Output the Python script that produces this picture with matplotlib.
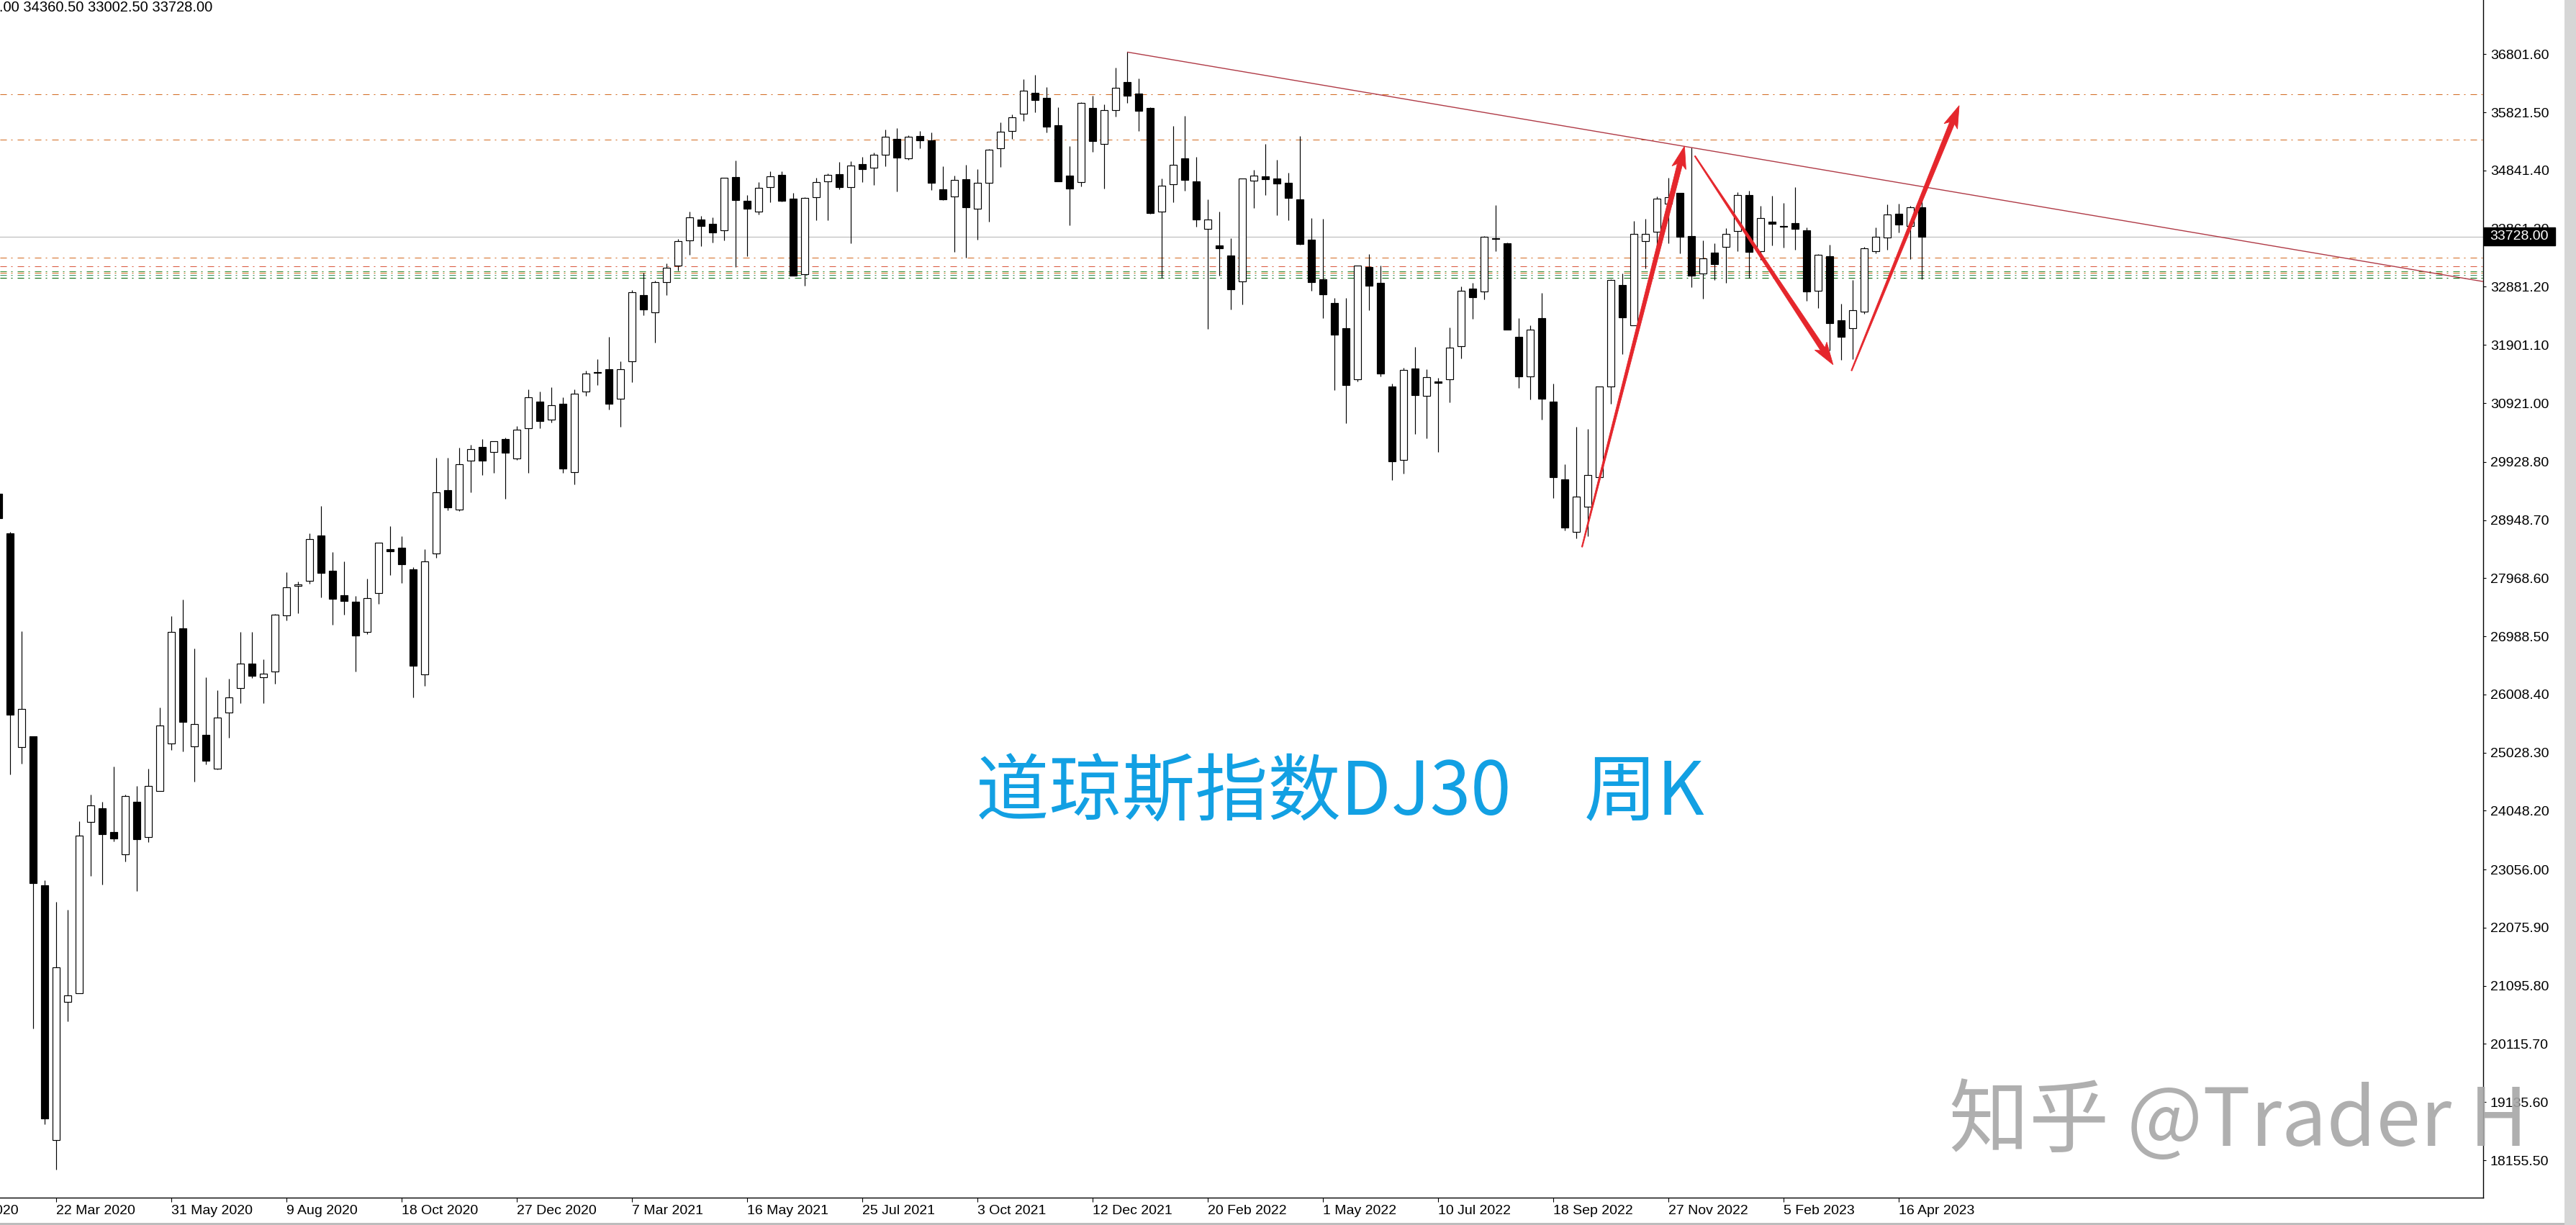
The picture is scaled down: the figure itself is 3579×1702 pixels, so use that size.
import matplotlib
matplotlib.use("Agg")
import matplotlib.pyplot as plt
import numpy as np
import pandas as pd
from matplotlib.patches import Rectangle, Polygon
from matplotlib.transforms import IdentityTransform, blended_transform_factory

# ---------------- data (weekly DJ30 candles, bar 0 = week of 22 Mar 2020) ----------------
first_bar = -5
opens = [
    29395, 28721, 25123, 25297, 22793, 18497, 20827, 20970, 23863, 24085,
    23688, 23308, 24196, 23609, 24386, 25187, 27120, 25139, 25329, 24758,
    25702, 26122, 26534, 26304, 26391, 27342, 27834, 27929, 28690, 28096,
    27681, 27569, 27068, 27718, 28461, 28479, 28120, 26343, 28380, 29451,
    29123, 29947, 30176, 30101, 30312, 29990, 30498, 30950, 30646, 30912,
    29761, 31111, 31426, 31488, 30993, 31631, 32739, 32454, 32955, 33238,
    33659, 34011, 33938, 33829, 34727, 34327, 34153, 34557, 34763, 34363,
    33089, 34395, 34662, 34776, 34557, 34945, 34885, 35103, 35370, 35043,
    35419, 35346, 34521, 34399, 34691, 34201, 34638, 35213, 35504, 35795,
    36147, 36066, 35605, 34756, 34643, 35896, 35286, 35856, 36333, 36139,
    35896, 34145, 34606, 35047, 34659, 33854, 33575, 33409, 32976, 34667,
    34740, 34707, 34634, 34355, 33674, 33009, 32610, 32184, 31317, 33216,
    32947, 31200, 29957, 31501, 31039, 31286, 31317, 31874, 32848, 32798,
    33700, 33615, 32035, 31376, 32359, 30945, 29634, 28745, 29172, 29670,
    31196, 32911, 32231, 33647, 33809, 34286, 34464, 33732, 33105, 33457,
    33550, 33817, 34428, 33477, 33975, 33905, 33950, 33833, 32810, 33396,
    32316, 32179, 32466, 33477, 33708, 34108, 33902, 34217]
highs = [
    29560, 28745, 27073, 25297, 22872, 22515, 22381, 23871, 24323, 24196,
    24790, 24323, 24465, 24758, 25789, 27326, 27612, 26780, 26296, 26082,
    26272, 27065, 27065, 26597, 27366, 28064, 27913, 28721, 29189, 28411,
    28250, 27668, 27959, 28566, 28845, 28677, 28151, 28455, 29996, 29996,
    30169, 30213, 30312, 30275, 30337, 30529, 31154, 31117, 31191, 31018,
    31154, 31470, 31662, 32039, 31631, 32825, 33116, 32980, 33271, 33691,
    34149, 34072, 34047, 34723, 35010, 34424, 34642, 34828, 34828, 34460,
    34387, 34715, 34788, 34982, 34994, 35067, 35144, 35532, 35556, 35439,
    35508, 35483, 34913, 34751, 34937, 34865, 35200, 35654, 35787, 36382,
    36455, 36248, 35909, 35253, 35990, 36107, 35953, 36576, 36839, 36390,
    35913, 34707, 35593, 35763, 35067, 34351, 34149, 33700, 34703, 34853,
    35290, 35023, 34804, 35419, 34042, 34028, 32691, 32691, 33234, 33431,
    33234, 31254, 31510, 31869, 31492, 31344, 32197, 32884, 32942, 33737,
    34257, 33633, 32354, 32233, 32772, 31254, 29890, 30523, 30482, 31200,
    33012, 33101, 33987, 34031, 34399, 34723, 34464, 35229, 33659, 33611,
    33865, 34480, 34500, 34246, 34415, 34294, 34561, 33882, 33428, 33590,
    32591, 33000, 33554, 33882, 34274, 34278, 34250, 34360.5]
lows = [
    28900, 24663, 24838, 20375, 18766, 17998, 20494, 20970, 22951, 22809,
    23530, 23197, 22698, 23522, 24380, 25076, 25052, 24544, 24830, 24742,
    25274, 25860, 26280, 25860, 26193, 27255, 27382, 27873, 27644, 27179,
    27359, 26399, 27031, 27532, 28027, 27885, 25953, 26158, 28318, 29117,
    29105, 29420, 29705, 29742, 29309, 29959, 29742, 30498, 30597, 29742,
    29544, 31042, 31222, 30807, 30516, 31278, 32404, 31946, 32745, 33157,
    33424, 33570, 33631, 33659, 33210, 33400, 34104, 34306, 34314, 33073,
    32903, 34007, 34007, 34529, 33619, 34650, 34598, 34917, 34492, 35018,
    35220, 34517, 34347, 33469, 33368, 33679, 33979, 34905, 35371, 35682,
    35824, 35488, 34655, 33923, 34574, 35160, 34541, 35755, 35985, 35512,
    34109, 33033, 34311, 34505, 33898, 32167, 33065, 32495, 32580, 34214,
    34432, 34092, 34007, 33591, 32816, 32359, 31142, 30586, 31290, 32489,
    31367, 29620, 29733, 30397, 30325, 30101, 30936, 31672, 32345, 32664,
    33481, 32161, 31178, 30981, 30639, 29315, 28772, 28637, 28673, 29670,
    30909, 31742, 32231, 33186, 33388, 33619, 33449, 32870, 32684, 32992,
    32943, 33481, 33028, 33340, 33582, 33546, 33509, 32648, 32526, 31810,
    31649, 31661, 32421, 33441, 33509, 33801, 33348, 33002.5]
closes = [
    28975, 25670, 25765, 22832, 18862, 21406, 20930, 23633, 24132, 23649,
    23585, 24291, 23562, 24465, 25488, 27057, 25543, 25511, 24885, 25622,
    25963, 26526, 26328, 26360, 27350, 27810, 27865, 28626, 28056, 27625,
    27588, 27006, 27631, 28566, 28424, 28207, 26492, 28256, 29414, 29166,
    29885, 30139, 29947, 30275, 30089, 30467, 31024, 30621, 30888, 29823,
    31073, 31414, 31440, 30912, 31494, 32794, 32503, 32955, 33197, 33647,
    34047, 33910, 33801, 34715, 34347, 34201, 34545, 34739, 34335, 33073,
    34375, 34642, 34763, 34565, 34921, 34869, 35103, 35407, 35063, 35407,
    35346, 34638, 34359, 34678, 34225, 34630, 35192, 35492, 35735, 36184,
    36034, 35585, 34655, 34541, 35977, 35342, 35856, 36236, 36107, 35852,
    34129, 34582, 34934, 34687, 34020, 34012, 33526, 32843, 34703, 34752,
    34699, 34626, 34384, 33607, 32965, 32758, 32080, 31227, 33234, 32902,
    31416, 29935, 31474, 31052, 31353, 31259, 31851, 32812, 32709, 33723,
    33690, 32161, 31376, 32157, 30990, 29670, 28817, 29342, 29706, 31200,
    32992, 32369, 33768, 33768, 34363, 34387, 33728, 33073, 33356, 33267,
    33768, 34424, 33473, 34039, 33946, 33900, 33861, 32806, 33416, 32272,
    32041, 32482, 33526, 33720, 34096, 33926, 34217, 33728]

base_date = "2020-03-22"
date_tick_bars = list(range(-10, 161, 10))
y_ticks = [36801.60, 35821.50, 34841.40, 33861.30, 32881.20, 31901.10, 30921.00,
           29928.80, 28948.70, 27968.60, 26988.50, 26008.40, 25028.30, 24048.20,
           23056.00, 22075.90, 21095.80, 20115.70, 19135.60, 18155.50]

level_values = [36127, 35362, 33372, 33226, 33141, 33114, 33077, 33032]
level_colors = ["#d2691e", "#d2691e", "#d2691e", "#d8553a", "#2e8b2e", "#d2691e", "#2e8b57", "#006400"]

current_price = 33728.0
header_ohlc = ["34217.00", "34360.50", "33002.50", "33728.00"]

trend_x = [93, 142]
trend_y = [36839, 35229]

arrow_tail_x = [132.5, 142.3, 155.9]
arrow_tail_y = [28494, 35087, 31467]
arrow_tip_x = [141.4, 154.3, 165.25]
arrow_tip_y = [35253, 31568, 35936]

title_text = "道琼斯指数DJ30\u3000周K"
watermark_text = "知乎 @Trader H"

# ---------------- figure ----------------
W, H = 3579, 1702
fig = plt.figure(figsize=(W / 100, H / 100), dpi=100, facecolor="white")
ax_right_px, ax_bottom_px = 3450, 1664
ax = fig.add_axes([0, 1 - ax_bottom_px / H, ax_right_px / W, ax_bottom_px / H])
ax.set_facecolor("white")

x = np.arange(first_bar, first_bar + len(opens))
o = np.array(opens, float); h = np.array(highs, float)
l = np.array(lows, float); c = np.array(closes, float)
up = c > o

XMIN, XMAX = -4.875, 210.75
YMIN, YMAX = 17524.8, 37716.5

# horizontal levels (behind candles)
for v, col in zip(level_values, level_colors):
    ax.axhline(v, color=col, lw=0.72, linestyle=(0, (9, 6, 2, 7)), zorder=1)
ax.axhline(current_price, color="#c4c4c4", lw=1.0, zorder=1.5)

# candles
ax.vlines(x, l, h, color="black", lw=0.85, zorder=3)
ax.bar(x, np.abs(c - o), bottom=np.minimum(o, c), width=0.64,
       color=np.where(up, "white", "black"), edgecolor="black", linewidth=0.85, zorder=4)

# trend line (ray to the right)
slope = (trend_y[1] - trend_y[0]) / (trend_x[1] - trend_x[0])
ax.plot([trend_x[0], XMAX], [trend_y[0], trend_y[0] + slope * (XMAX - trend_x[0])],
        color="#b03a46", lw=1.0, zorder=5, solid_capstyle="butt")

# axes styling
for s in ["top", "left"]:
    ax.spines[s].set_visible(False)
for s in ["right", "bottom"]:
    ax.spines[s].set_color("black")
    ax.spines[s].set_linewidth(1.0)

ax.yaxis.tick_right()
ax.set_yticks(y_ticks)
ax.set_yticklabels([f"{v:.2f}" for v in y_ticks], family="Liberation Sans", fontsize=14)
ax.tick_params(axis="y", direction="out", length=3, width=0.8, pad=4, colors="black")

dates = [pd.Timestamp(base_date) + pd.Timedelta(days=7 * k) for k in date_tick_bars]
xlabels = [f"{d.day} {d.strftime('%b %Y')}" for d in dates]
vis_ticks = [(k, s) for k, s in zip(date_tick_bars, xlabels) if k >= XMIN]
ax.set_xticks([k for k, _ in vis_ticks])
ax.set_xticklabels([s for _, s in vis_ticks], family="Liberation Sans", fontsize=14, ha="left")
ax.tick_params(axis="x", direction="out", length=4, width=0.8, pad=3, colors="black")

# limits set after ticks so they are not expanded
ax.set_xlim(XMIN, XMAX)
ax.set_ylim(YMIN, YMAX)

# labels for ticks left of the view (partially visible at the edge)
btrans = blended_transform_factory(ax.transData, ax.transAxes)
for k, s in zip(date_tick_bars, xlabels):
    if k < XMIN:
        ax.text(k, 0, s, transform=btrans, family="Liberation Sans", fontsize=14,
                ha="left", va="top", clip_on=False)

fig.canvas.draw()
# align the hidden-tick labels to the visible ones
ref_lbl = ax.get_xticklabels()[0]
ref_y = ref_lbl.get_window_extent().y1
for t in ax.texts:
    bb = t.get_window_extent()
    t.set_y(0)
    dy = ref_y - bb.y1
    t.set_transform(btrans + matplotlib.transforms.Affine2D().translate(0, dy))

ident = IdentityTransform()

# tapered arrows
def tapered_arrow(x0, y0, x1, y1, color="#e5262c"):
    p0 = ax.transData.transform((x0, y0))
    p1 = ax.transData.transform((x1, y1))
    d = p1 - p0
    L = np.hypot(*d)
    u = d / L
    n = np.array([-u[1], u[0]])
    head_len, head_half, w0, w1 = 26.0, 10.0, 0.7, 3.6
    base = p1 - u * head_len
    pts = [p0 + n * w0, base + n * w1, base - u * 5 + n * head_half, p1,
           base - u * 5 - n * head_half, base - n * w1, p0 - n * w0]
    poly = Polygon(pts, closed=True, transform=ident, facecolor=color,
                   edgecolor=color, lw=0.6, zorder=6)
    fig.add_artist(poly)

for a, b, cc, dd in zip(arrow_tail_x, arrow_tail_y, arrow_tip_x, arrow_tip_y):
    tapered_arrow(a, b, cc, dd)

# current price box on axis
px, py = ax.transData.transform((XMAX, current_price))
fig.add_artist(Rectangle((px + 1, py - 12.5), 99, 25, transform=ident,
                         facecolor="black", edgecolor="black", zorder=8))
fig.text(px + 9, py, f"{current_price:.2f}", transform=ident, color="white",
         family="Liberation Sans", fontsize=14, ha="left", va="center", zorder=9)

# header OHLC text (cut at left edge)
fig.text(295, H - 10, " ".join(header_ohlc), transform=ident, color="black",
         family="Liberation Sans", fontsize=14.5, ha="right", va="center")

# title annotation
fig.text(1356, H - 1103, title_text, transform=ident, color="#12a0e3",
         family=["Noto Sans CJK SC", "DejaVu Sans"], fontsize=73, ha="left", va="center")

# watermark
fig.text(2708, H - 1560, watermark_text, transform=ident, color="#a6a6a6", alpha=0.9,
         family=["Noto Sans CJK SC", "DejaVu Sans"], fontsize=80, ha="left", va="center", zorder=10)

# window borders
fig.add_artist(Rectangle((3563, 0), 16, H, transform=ident, facecolor="#d6d6d6",
                         edgecolor="none", zorder=7))
fig.add_artist(Rectangle((0, 0), 3563, 3, transform=ident, facecolor="#bdbdbd",
                         edgecolor="none", zorder=7))

fig.savefig("out.png", dpi=100, facecolor="white")
